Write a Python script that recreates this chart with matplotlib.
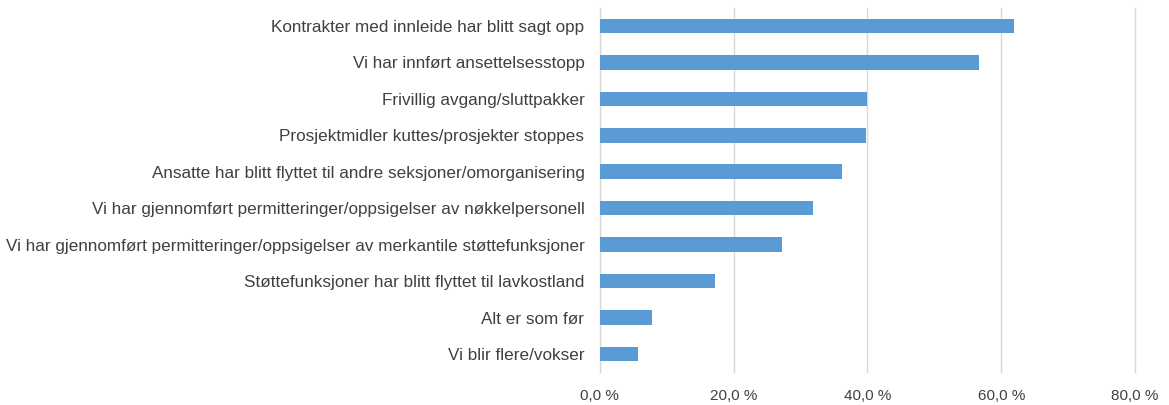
import matplotlib.pyplot as plt
from matplotlib.ticker import FuncFormatter

labels = [
    'Kontrakter med innleide har blitt sagt opp',
    'Vi har innført ansettelsesstopp',
    'Frivillig avgang/sluttpakker',
    'Prosjektmidler kuttes/prosjekter stoppes',
    'Ansatte har blitt flyttet til andre seksjoner/omorganisering',
    'Vi har gjennomført permitteringer/oppsigelser av nøkkelpersonell',
    'Vi har gjennomført permitteringer/oppsigelser av merkantile støttefunksjoner',
    'Støttefunksjoner har blitt flyttet til lavkostland',
    'Alt er som før',
    'Vi blir flere/vokser',
]
values = [61.9, 56.7, 40.0, 39.8, 36.2, 31.8, 27.3, 17.2, 7.8, 5.7]

BAR = '#5B9BD5'
GRID = '#D9D9D9'
TXT = '#404040'

plt.rcParams['font.family'] = ['Liberation Sans', 'DejaVu Sans']

fig = plt.figure(figsize=(11.69, 4.05), dpi=100, facecolor='white')
ax = fig.add_axes([0.513, 0.081, 0.458, 0.9])

y = list(range(len(labels)))
ax.barh(y, values, height=0.4, color=BAR, zorder=3)
ax.set_yticks(y)
ax.set_yticklabels(labels, fontsize=12.3, color=TXT)
ax.set_ylim(len(labels) - 0.5, -0.5)

ax.set_xlim(0, 80)
ax.set_xticks([0, 20, 40, 60, 80])
ax.xaxis.set_major_formatter(FuncFormatter(lambda v, _: f'{v:.1f} %'.replace('.', ',')))
ax.tick_params(axis='x', labelsize=11, colors=TXT, length=0, pad=12)
ax.tick_params(axis='y', length=0, pad=11)
ax.grid(True, axis='x', color=GRID, lw=1, zorder=0)
for gl in ax.get_xgridlines():
    gl.set_clip_on(False)
for s in ax.spines.values():
    s.set_visible(False)
ax.axvline(0, color=GRID, lw=1, zorder=1)

fig.savefig('out.png', dpi=100, facecolor='white')
